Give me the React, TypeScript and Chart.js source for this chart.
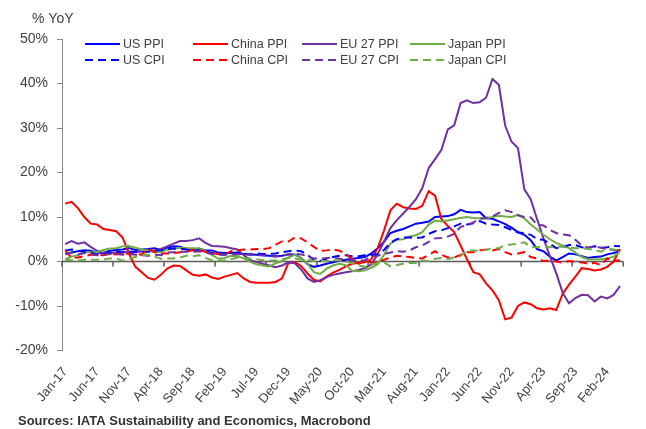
import React, { useEffect, useRef } from "react";
import { Chart, registerables } from "chart.js";

Chart.register(...registerables);

const CATEGORIES = [
  "Jan-17","Feb-17","Mar-17","Apr-17","May-17","Jun-17","Jul-17","Aug-17","Sep-17","Oct-17","Nov-17","Dec-17",
  "Jan-18","Feb-18","Mar-18","Apr-18","May-18","Jun-18","Jul-18","Aug-18","Sep-18","Oct-18","Nov-18","Dec-18",
  "Jan-19","Feb-19","Mar-19","Apr-19","May-19","Jun-19","Jul-19","Aug-19","Sep-19","Oct-19","Nov-19","Dec-19",
  "Jan-20","Feb-20","Mar-20","Apr-20","May-20","Jun-20","Jul-20","Aug-20","Sep-20","Oct-20","Nov-20","Dec-20",
  "Jan-21","Feb-21","Mar-21","Apr-21","May-21","Jun-21","Jul-21","Aug-21","Sep-21","Oct-21","Nov-21","Dec-21",
  "Jan-22","Feb-22","Mar-22","Apr-22","May-22","Jun-22","Jul-22","Aug-22","Sep-22","Oct-22","Nov-22","Dec-22",
  "Jan-23","Feb-23","Mar-23","Apr-23","May-23","Jun-23","Jul-23","Aug-23","Sep-23","Oct-23","Nov-23","Dec-23",
  "Jan-24","Feb-24","Mar-24","Apr-24",
];

const US_PPI = [
  1.7, 2.0, 2.3, 2.5, 2.4, 2.0, 1.9, 2.4, 2.6, 2.7, 3.0, 2.6,
  2.7, 2.8, 3.0, 2.6, 3.1, 3.4, 3.3, 2.8, 2.6, 2.9, 2.5, 2.5,
  2.0, 1.9, 1.9, 1.8, 1.7, 1.6, 1.5, 1.4, 1.3, 1.2, 1.3, 1.6,
  1.6, 0.8, -0.6, -1.2, -0.9, -0.5, -0.2, 0.2, 0.4, 0.6, 0.8, 1.0,
  1.8, 3.0, 4.4, 6.4, 6.9, 7.3, 7.9, 8.5, 8.7, 9.0, 10.0, 10.1,
  10.2, 10.6, 11.6, 11.1, 11.0, 11.1, 9.7, 9.6, 9.0, 8.4, 7.6, 6.6,
  6.0, 4.8, 2.8, 2.3, 1.1, 0.2, 1.0, 1.8, 1.6, 1.2, 0.8, 1.0,
  1.1, 1.6, 1.9, 2.3,
];

const US_CPI = [
  2.5, 2.7, 2.4, 2.2, 1.9, 1.6, 1.7, 1.9, 2.2, 2.0, 2.2, 2.1,
  2.1, 2.2, 2.4, 2.5, 2.8, 2.9, 2.9, 2.7, 2.3, 2.5, 2.2, 1.9,
  1.6, 1.5, 1.9, 2.0, 1.8, 1.6, 1.8, 1.7, 1.7, 1.8, 2.1, 2.3,
  2.5, 2.3, 1.5, 0.3, 0.1, 0.6, 1.0, 1.3, 1.4, 1.2, 1.2, 1.4,
  1.4, 1.7, 2.6, 4.2, 5.0, 5.4, 5.4, 5.3, 5.4, 6.2, 6.8, 7.0,
  7.5, 7.9, 8.5, 8.3, 8.6, 9.1, 8.5, 8.3, 8.2, 7.7, 7.1, 6.5,
  6.4, 6.0, 5.0, 4.9, 4.0, 3.0, 3.2, 3.7, 3.7, 3.2, 3.1, 3.4,
  3.1, 3.2, 3.5, 3.4,
];

const CHINA_PPI = [
  13.0, 13.4, 12.0, 10.0, 8.5, 8.3, 7.3, 7.1, 6.8, 5.4, 1.8, -1.2,
  -2.4, -3.7, -4.1, -3.0, -1.6, -0.9, -1.0, -2.0, -3.0, -3.2, -2.9, -3.6,
  -3.9, -3.4, -3.0, -2.6, -3.8, -4.6, -4.8, -4.8, -4.8, -4.6, -3.8, -0.3,
  -0.1, -1.0, -2.7, -4.1, -4.5, -3.4, -2.5, -1.9, -1.1, -0.5, -0.3, -0.2,
  0.5, 3.0, 7.0, 11.5, 13.0, 12.2, 11.9, 11.8, 12.5, 15.8, 14.8, 9.5,
  8.0, 6.6, 3.6, 0.5, -2.4, -2.9, -4.9, -6.5, -8.7, -13.0, -12.6, -10.0,
  -9.2, -9.6, -10.5, -10.8, -10.5, -10.9, -7.3, -5.2, -3.4, -1.5, -1.7, -2.0,
  -1.8, -1.2, 0.0, 2.8,
];

const CHINA_CPI = [
  2.5, 0.8, 0.9, 1.2, 1.5, 1.5, 1.4, 1.8, 1.6, 1.9, 1.7, 1.8,
  1.5, 2.9, 2.1, 1.8, 1.8, 1.9, 2.1, 2.3, 2.5, 2.5, 2.2, 1.9,
  1.7, 1.5, 2.3, 2.5, 2.7, 2.7, 2.8, 2.8, 3.0, 3.8, 4.5, 4.5,
  5.4, 5.2, 4.3, 3.3, 2.4, 2.5, 2.7, 2.4, 1.7, 0.5, -0.5, 0.2,
  -0.3, -0.2, 0.4, 0.9, 1.3, 1.1, 1.0, 0.8, 0.7, 1.5, 2.3, 1.5,
  0.9, 0.9, 1.5, 2.1, 2.1, 2.5, 2.7, 2.5, 2.8, 2.1, 1.6, 1.8,
  2.1, 1.0, 0.7, 0.1, 0.2, 0.0, -0.3, 0.1, 0.0, -0.2, -0.5, -0.3,
  -0.8, 0.7, 0.1, 0.3,
];

const EU27_PPI = [
  3.9, 4.6, 4.0, 4.3, 3.3, 2.4, 2.0, 1.9, 2.0, 2.1, 2.2, 2.2,
  2.2, 2.3, 2.5, 2.8, 3.4, 4.0, 4.6, 4.6, 4.8, 5.2, 4.2, 3.5,
  3.4, 3.3, 3.0, 2.7, 1.4, 0.3, -0.1, -0.5, -0.9, -1.3, -0.9, -0.2,
  -0.4, -1.8, -3.8, -4.6, -4.2, -3.5, -3.0, -2.7, -2.4, -2.2, -1.9, -1.5,
  -0.7, 1.6, 4.5, 7.5, 9.3, 10.8, 12.3, 14.0, 16.5, 21.0, 23.0, 25.1,
  29.7, 30.6, 35.6, 36.2, 35.6, 35.8, 36.8, 41.0, 39.7, 30.5, 26.9, 25.5,
  16.2, 14.0, 9.5, 5.2, 1.2, -2.6, -7.0, -9.4, -8.2, -7.5, -7.6, -9.0,
  -7.9, -8.3, -7.5, -5.5,
];

const EU27_CPI = [
  1.7, 2.0, 1.6, 1.9, 1.6, 1.4, 1.5, 1.7, 1.7, 1.5, 1.7, 1.5,
  1.4, 1.3, 1.5, 1.4, 2.0, 2.1, 2.2, 2.2, 2.2, 2.3, 2.1, 1.7,
  1.6, 1.6, 1.6, 1.7, 1.6, 1.6, 1.4, 1.4, 1.2, 1.1, 1.3, 1.6,
  1.7, 1.6, 1.2, 0.7, 0.6, 0.8, 0.9, 0.6, 0.3, 0.3, 0.2, 0.3,
  1.2, 1.3, 1.7, 2.0, 2.3, 2.2, 2.5, 3.2, 3.6, 4.4, 5.2, 5.3,
  5.6, 6.2, 7.8, 8.1, 8.8, 9.6, 9.8, 10.1, 10.9, 11.5, 11.1, 10.4,
  10.0, 9.9, 8.3, 8.1, 7.1, 6.4, 6.1, 5.9, 4.9, 3.6, 3.1, 3.4,
  3.1, 2.8, 2.6, 2.6,
];

const JAPAN_PPI = [
  0.5, 1.1, 1.4, 2.1, 2.1, 2.1, 2.6, 2.9, 3.0, 3.4, 3.5, 3.1,
  2.7, 2.5, 2.1, 2.1, 2.7, 2.8, 3.1, 3.0, 3.0, 2.9, 2.3, 1.5,
  0.6, 0.8, 1.3, 1.2, 0.7, -0.1, -0.6, -0.9, -1.1, -0.4, 0.1, 0.9,
  1.5, 0.8, -0.5, -2.4, -2.8, -1.6, -0.9, -0.5, -0.8, -2.1, -2.2, -2.0,
  -1.4, -0.6, 1.5, 4.0, 4.9, 5.0, 5.6, 5.9, 6.6, 8.3, 9.2, 9.0,
  9.2, 9.5, 9.8, 10.0, 9.8, 9.7, 9.7, 10.0, 10.3, 10.1, 10.0, 10.5,
  9.7, 8.3, 7.2, 6.0, 5.0, 4.2, 3.6, 3.0, 2.0, 1.0, 0.5, 0.5,
  0.5, 0.7, 1.1, 2.2,
];

const JAPAN_CPI = [
  0.4, 0.3, 0.2, 0.4, 0.4, 0.4, 0.4, 0.7, 0.7, 0.2, 0.6, 1.0,
  1.4, 1.5, 1.1, 0.6, 0.7, 0.7, 0.9, 1.3, 1.2, 1.4, 0.8, 0.3,
  0.2, 0.2, 0.5, 0.9, 0.7, 0.7, 0.5, 0.3, 0.2, 0.2, 0.5, 0.8,
  0.7, 0.4, 0.4, 0.1, 0.1, 0.1, 0.3, 0.2, 0.0, -0.4, -0.9, -1.2,
  -0.6, -0.4, -0.2, -1.1, -0.8, -0.5, -0.3, -0.4, 0.2, 0.1, 0.6, 0.8,
  0.5, 0.9, 1.2, 2.5, 2.5, 2.4, 2.6, 3.0, 3.0, 3.7, 3.8, 4.0,
  4.3, 3.3, 3.2, 3.5, 3.2, 3.3, 3.3, 3.2, 3.0, 3.0, 2.8, 2.6,
  2.2, 2.8, 2.7, 2.5,
];

const Y_MIN = -20;
const Y_MAX = 50;
const Y_STEP = 10;
const LABEL_EVERY = 5;
const TICK_EVERY = 8;

const BLUE = "#0000FF";
const RED = "#FF0000";
const PURPLE = "#7030A0";
const GREEN = "#70AD47";
const DASH = [8, 5];

const SERIES = [
  { label: "US PPI", data: US_PPI, color: BLUE, dashed: false },
  { label: "China PPI", data: CHINA_PPI, color: RED, dashed: false },
  { label: "EU 27 PPI", data: EU27_PPI, color: PURPLE, dashed: false },
  { label: "Japan PPI", data: JAPAN_PPI, color: GREEN, dashed: false },
  { label: "US CPI", data: US_CPI, color: BLUE, dashed: true },
  { label: "China CPI", data: CHINA_CPI, color: RED, dashed: true },
  { label: "EU 27 CPI", data: EU27_CPI, color: PURPLE, dashed: true },
  { label: "Japan CPI", data: JAPAN_CPI, color: GREEN, dashed: true },
];

const FONT = "'Liberation Sans', Arial, sans-serif";
const TEXT = "#404040";

const decorPlugin = {
  id: "decor",
  beforeDatasetsDraw(chart: any) {
    const { ctx, chartArea, scales } = chart;
    const y0 = scales.y.getPixelForValue(0);
    const n = CATEGORIES.length;
    const w = (chartArea.right - chartArea.left) / n;
    ctx.save();
    ctx.strokeStyle = "#595959";
    ctx.lineWidth = 1.5;
    ctx.beginPath();
    ctx.moveTo(chartArea.left, y0);
    ctx.lineTo(chartArea.right, y0);
    for (let k = 0; k <= n; k += TICK_EVERY) {
      const x = chartArea.left + k * w;
      ctx.moveTo(x, y0);
      ctx.lineTo(x, y0 + 5);
    }
    ctx.stroke();
    ctx.restore();
  },
  afterDraw(chart: any) {
    const { ctx } = chart;
    ctx.save();
    ctx.fillStyle = TEXT;
    ctx.font = `14px ${FONT}`;
    ctx.textBaseline = "middle";
    ctx.textAlign = "left";
    ctx.fillText("% YoY", 32, 19);

    const colX = [85, 193, 302, 410];
    const rowY = [44, 60];
    ctx.font = `12.5px ${FONT}`;
    SERIES.forEach((s, i) => {
      const col = i % 4;
      const row = Math.floor(i / 4);
      const x = colX[col];
      const y = rowY[row];
      ctx.strokeStyle = s.color;
      ctx.lineWidth = 2;
      ctx.setLineDash(s.dashed ? DASH : []);
      ctx.beginPath();
      ctx.moveTo(x, y);
      ctx.lineTo(x + 35, y);
      ctx.stroke();
      ctx.setLineDash([]);
      ctx.fillStyle = TEXT;
      ctx.fillText(s.label, x + 38, y + 0.5);
    });

    ctx.fillStyle = "#333333";
    ctx.font = `bold 13px ${FONT}`;
    ctx.fillText("Sources: IATA Sustainability and Economics, Macrobond", 18, 421);
    ctx.restore();
  },
};

export default function App() {
  const canvasRef = useRef<HTMLCanvasElement | null>(null);

  useEffect(() => {
    document.body.style.margin = "0";
    const canvas = canvasRef.current;
    if (!canvas) return;
    const chart = new Chart(canvas, {
      type: "line",
      data: {
        labels: CATEGORIES,
        datasets: SERIES.map((s, i) => ({
          label: s.label,
          data: s.data,
          borderColor: s.color,
          backgroundColor: s.color,
          borderWidth: 2,
          borderDash: s.dashed ? DASH : [],
          pointRadius: 0,
          tension: 0,
          fill: false,
          order: SERIES.length - i,
        })),
      },
      options: {
        responsive: false,
        animation: false,
        devicePixelRatio: 1,
        layout: { padding: { top: 39, right: 9, left: 0, bottom: 0 } },
        plugins: {
          legend: { display: false },
          tooltip: { enabled: false },
          title: { display: false },
        },
        scales: {
          x: {
            type: "category",
            offset: true,
            grid: { display: false, drawTicks: false },
            border: { display: false },
            ticks: {
              autoSkip: false,
              minRotation: 50,
              maxRotation: 50,
              padding: 14,
              color: TEXT,
              font: { family: FONT, size: 13 },
              callback: (_v: any, i: number) => (i % LABEL_EVERY === 0 ? CATEGORIES[i] : ""),
            },
            afterFit: (scale: any) => {
              scale.height = 78.5;
            },
          },
          y: {
            min: Y_MIN,
            max: Y_MAX,
            grid: {
              display: true,
              drawOnChartArea: false,
              drawTicks: true,
              tickLength: 5,
              color: "#868686",
            },
            border: { display: true, color: "#868686", width: 1 },
            ticks: {
              stepSize: Y_STEP,
              padding: 9,
              color: TEXT,
              font: { family: FONT, size: 14 },
              callback: (v: any) => `${v}%`,
            },
            afterFit: (scale: any) => {
              scale.width = 62;
            },
          },
        },
      },
      plugins: [decorPlugin],
    });
    return () => chart.destroy();
  }, []);

  return (
    <div style={{ width: 646, height: 429, background: "#fff" }}>
      <canvas ref={canvasRef} width={646} height={429} style={{ display: "block" }} />
    </div>
  );
}
